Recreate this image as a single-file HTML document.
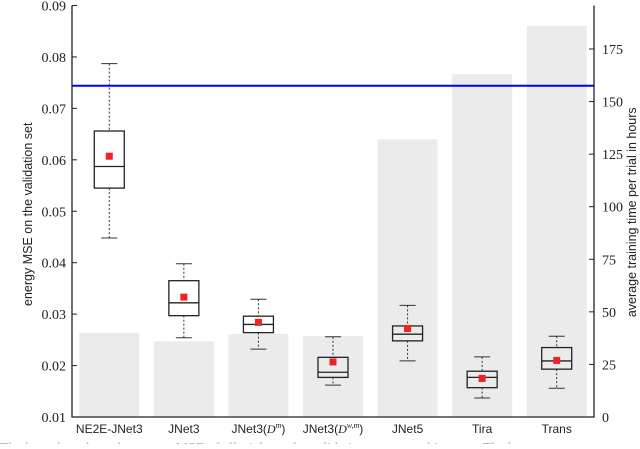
<!DOCTYPE html>
<html><head><meta charset="utf-8"><style>
body{margin:0;background:#fff;width:640px;height:444px;overflow:hidden}
svg text{font-family:"Liberation Serif",serif;fill:#222}
.sans{font-family:"Liberation Sans",sans-serif}
</style></head><body>
<svg id="chart" width="640" height="444"></svg>
<script>
const categories=["NE2E-JNet3","JNet3","JNet3(D^m)","JNet3(D^{w,m})","JNet5","Tira","Trans"];
const trainHours=[40,36,39.5,38.5,132,163,186];
const whiskerHigh=[0.0787,0.0398,0.0329,0.0256,0.0317,0.0217,0.0257];
const q3=[0.0656,0.0365,0.0296,0.0216,0.0277,0.0189,0.0235];
const median=[0.0587,0.0322,0.0280,0.0187,0.0261,0.0177,0.0209];
const q1=[0.0545,0.0297,0.0264,0.0177,0.0248,0.0157,0.0193];
const whiskerLow=[0.0448,0.0254,0.0232,0.0162,0.0209,0.0137,0.0156];
const means=[0.0607,0.0333,0.0284,0.0207,0.0272,0.0175,0.0210];
const baseline=0.0744;
const leftTicks=[0.01,0.02,0.03,0.04,0.05,0.06,0.07,0.08,0.09];
const rightTicks=[0,25,50,75,100,125,150,175];

const NS="http://www.w3.org/2000/svg";
const svg=document.getElementById('chart');
const X0=72,X1=594,Y0=417,Ytop=5.5;
const yL=v=>Y0-(v-0.01)/0.08*(Y0-Ytop);
const yR=h=>Y0-h*2.103;
const step=(X1-X0)/categories.length;
const xC=i=>X0+step*(i+0.5);
function el(t,a,p){const e=document.createElementNS(NS,t);for(const k in a)e.setAttribute(k,a[k]);(p||svg).appendChild(e);return e;}

trainHours.forEach((h,i)=>{
  const r=el('rect',{x:xC(i)-30,y:yR(h),width:60,height:Y0-yR(h),fill:'#ebebeb'});
  
  
});
const bl=el('line',{x1:X0,x2:X1,y1:yL(baseline),y2:yL(baseline),stroke:'#0000ff','stroke-width':2});



categories.forEach((c,i)=>{
  const g=el('g',{});
  
  
  const x=xC(i),w=15;
  el('line',{x1:x,x2:x,y1:yL(whiskerHigh[i]),y2:yL(q3[i]),stroke:'#333','stroke-dasharray':'2,2','stroke-width':1},g);
  el('line',{x1:x,x2:x,y1:yL(q1[i]),y2:yL(whiskerLow[i]),stroke:'#333','stroke-dasharray':'2,2','stroke-width':1},g);
  el('line',{x1:x-8,x2:x+8,y1:yL(whiskerHigh[i]),y2:yL(whiskerHigh[i]),stroke:'#333','stroke-width':1},g);
  el('line',{x1:x-8,x2:x+8,y1:yL(whiskerLow[i]),y2:yL(whiskerLow[i]),stroke:'#333','stroke-width':1},g);
  el('rect',{x:x-w,y:yL(q3[i]),width:2*w,height:yL(q1[i])-yL(q3[i]),fill:'none',stroke:'#222','stroke-width':1.3},g);
  el('line',{x1:x-w,x2:x+w,y1:yL(median[i]),y2:yL(median[i]),stroke:'#222','stroke-width':1.3},g);
  el('rect',{x:x-3.5,y:yL(means[i])-3.5,width:7,height:7,fill:'#ee2222'},g);
});

const ax=el('path',{d:`M${X0} ${Ytop}V${Y0}H${X1}V${Ytop}`,fill:'none',stroke:'#222','stroke-width':1.3});


leftTicks.forEach(v=>{
  el('line',{x1:X0,x2:X0+5,y1:yL(v),y2:yL(v),stroke:'#222'});
  const t=el('text',{x:X0-6,y:yL(v)+5,'text-anchor':'end','font-size':14});
  t.textContent=v.toFixed(2);
  
  
});
rightTicks.forEach(v=>{
  el('line',{x1:X1-5,x2:X1,y1:yR(v),y2:yR(v),stroke:'#222'});
  const t=el('text',{x:X1+8,y:yR(v)+5,'font-size':14});
  t.textContent=v;
  
  
});
categories.forEach((c,i)=>{
  const t=el('text',{x:xC(i),y:433,'text-anchor':'middle','font-size':12,'class':'sans'});
  
  
  const m=c.match(/^(.*)\(D\^\{?([^}]*)\}?\)$/);
  if(m){
    t.appendChild(document.createTextNode(m[1]+'('));
    const d=el('tspan',{'font-style':'italic','font-family':'Liberation Serif, serif'},t);d.textContent='D';
    const s=el('tspan',{'font-size':8,dy:-5,'font-style':'italic','font-family':'Liberation Serif, serif'},t);s.textContent=m[2];
    const e=el('tspan',{dy:5},t);e.textContent=')';
  } else t.textContent=c;
});
const yl=el('text',{x:0,y:0,transform:`translate(32,${(Y0+Ytop)/2+3}) rotate(-90)`,'text-anchor':'middle','font-size':12.5,'class':'sans'});
yl.textContent='energy MSE on the validation set';


const yr=el('text',{x:0,y:0,transform:`translate(320+0,0)`,'font-size':12.5});
yr.remove();
const yr2=el('text',{x:0,y:0,transform:`translate(636,${(Y0+Ytop)/2+1}) rotate(-90)`,'text-anchor':'middle','font-size':12.5,'class':'sans'});
yr2.textContent='average training time per trial in hours';


const cap=el('text',{x:0,y:452,'font-size':14,fill:'#999'});
cap.setAttribute('style','fill:#aaa');
cap.textContent='The box plots show the energy MSE of all trials on the validation set per architecture. The bars';


</script>
</body></html>
